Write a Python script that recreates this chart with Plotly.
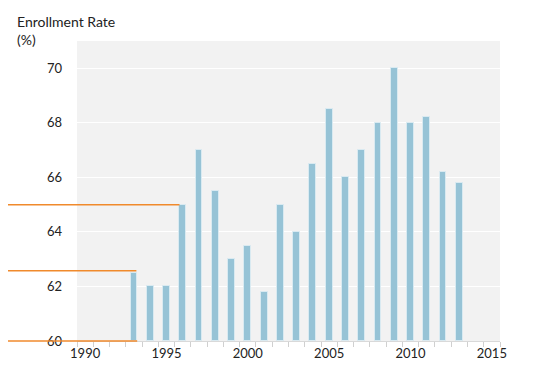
import plotly.graph_objects as go

years = list(range(1993, 2014))
rates = [62.5, 62.0, 62.0, 65.0, 67.0, 65.5, 63.0, 63.5, 61.8, 65.0, 64.0,
         66.5, 68.5, 66.0, 67.0, 68.0, 70.0, 68.0, 68.2, 66.2, 65.8]
x_ticks = [1990, 1995, 2000, 2005, 2010, 2015]
y_ticks = [60, 62, 64, 66, 68, 70]

# reference lines: (y value, year where the line stops)
ref_lines = [(65.0, 1995.8), (62.58, 1993.15), (60.0, 1993.2)]

x_range = [1989.5, 2015.5]
y_range = [60, 71]

fig = go.Figure()
fig.add_trace(go.Bar(
    x=years, y=[r - y_range[0] for r in rates], base=y_range[0],
    width=0.42,
    marker=dict(color="#96c3d6", line=dict(color="rgba(220,235,242,0.9)", width=1)),
    hoverinfo="skip",
))

def xp(v):
    return (v - x_range[0]) / (x_range[1] - x_range[0])

def yp(v):
    return (v - y_range[0]) / (y_range[1] - y_range[0])

for yv, xe in ref_lines:
    fig.add_shape(type="line", xref="paper", yref="paper",
                  x0=-0.173, x1=xp(xe), y0=yp(yv), y1=yp(yv),
                  line=dict(color="#f08a2c", width=1.5), layer="above")

fig.update_layout(
    width=532, height=376,
    margin=dict(l=69, r=40, t=33, b=43),
    paper_bgcolor="white", plot_bgcolor="#f2f2f2",
    showlegend=False, bargap=0,
    font=dict(family="Lato, Open Sans, sans-serif", size=13, color="#222"),
    annotations=[dict(text="Enrollment Rate<br>(%)", xref="paper", yref="paper",
                      x=-0.146, y=1.1, xanchor="left", yanchor="top",
                      align="left", showarrow=False,
                      font=dict(size=14, color="#222"))],
)
fig.update_xaxes(range=x_range, tickvals=x_ticks, ticks="", showgrid=False,
                 zeroline=False, showline=True, linecolor="#d9d9d9", linewidth=1,
                 tickfont=dict(size=13),
                 minor=dict(tick0=1989.5, dtick=1, ticks="outside", ticklen=5,
                            tickcolor="#d0d0d0", tickwidth=1, showgrid=False))
fig.update_yaxes(range=y_range, tickvals=y_ticks, showgrid=True, gridcolor="white",
                 gridwidth=1, zeroline=False, showline=False, ticks="",
                 ticklabelstandoff=14, tickfont=dict(size=13))

fig.write_html("out.html")
